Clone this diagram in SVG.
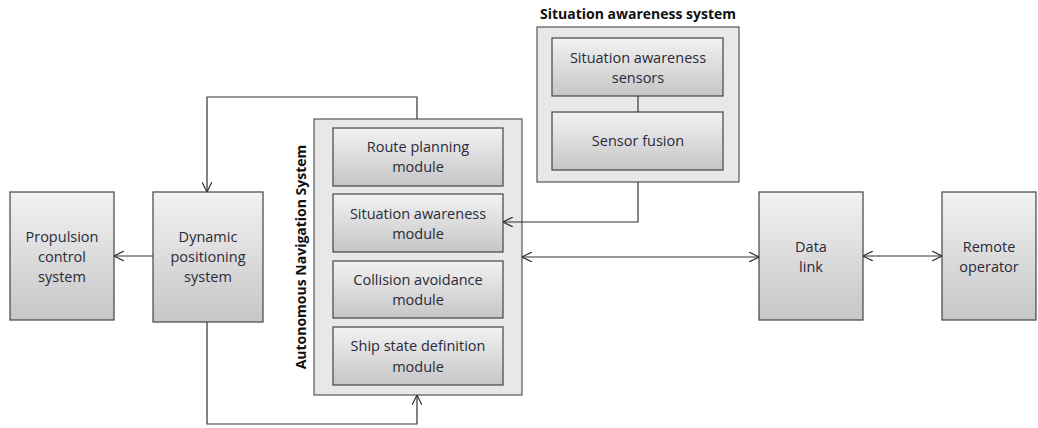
<svg xmlns="http://www.w3.org/2000/svg" width="1038" height="428" viewBox="0 0 1038 428">
<style>
.box{fill:url(#g);stroke:#444;stroke-width:1.2}
.cont{fill:#e8e8e8;stroke:#555;stroke-width:1.2}
.t{font-family:"Open Sans","Liberation Sans",sans-serif;font-size:14.5px;fill:#2a2a3a;text-anchor:middle}
.b{font-family:"Open Sans","Liberation Sans",sans-serif;font-size:14px;font-weight:bold;fill:#111;text-anchor:middle}
.c{fill:none;stroke:#333;stroke-width:1.2}
</style>
<defs>
<linearGradient id="g" x1="0" y1="0" x2="0" y2="1"><stop offset="0" stop-color="#f2f2f2"/><stop offset="1" stop-color="#c6c6c6"/></linearGradient>
<marker id="a" viewBox="0 0 10 10" refX="10" refY="5" markerWidth="10" markerHeight="10" markerUnits="userSpaceOnUse" orient="auto-start-reverse"><path d="M0,0 L10,5 L0,10" fill="none" stroke="#333" stroke-width="1.2"/></marker>
</defs>
<g id="propulsion"><rect class="box" x="10" y="192" width="104" height="128"/>
<text class="t" x="62" y="242">Propulsion</text><text class="t" x="62" y="262">control</text><text class="t" x="62" y="282">system</text></g>
<g id="dp"><rect class="box" x="153" y="192" width="110" height="130"/>
<text class="t" x="208" y="242">Dynamic</text><text class="t" x="208" y="262">positioning</text><text class="t" x="208" y="282">system</text></g>
<g id="ans"><rect class="cont" x="314" y="119" width="208" height="276"/>
<text class="b" transform="translate(306,257) rotate(-90)">Autonomous Navigation System</text></g>
<g id="route"><rect class="box" x="333" y="128" width="170" height="58"/>
<text class="t" x="418" y="152">Route planning</text><text class="t" x="418" y="172">module</text></g>
<g id="sam"><rect class="box" x="333" y="194" width="170" height="58"/>
<text class="t" x="418" y="219">Situation awareness</text><text class="t" x="418" y="239">module</text></g>
<g id="cam"><rect class="box" x="333" y="261" width="170" height="57"/>
<text class="t" x="418" y="285">Collision avoidance</text><text class="t" x="418" y="305">module</text></g>
<g id="ssd"><rect class="box" x="333" y="327" width="170" height="58"/>
<text class="t" x="418" y="351">Ship state definition</text><text class="t" x="418" y="372">module</text></g>
<g id="sas"><text class="b" x="638" y="19">Situation awareness system</text>
<rect class="cont" x="537" y="27" width="202" height="155"/></g>
<g id="sensors"><rect class="box" x="552" y="38" width="171" height="58"/>
<text class="t" x="638" y="63">Situation awareness</text><text class="t" x="638" y="83">sensors</text></g>
<g id="fusion"><rect class="box" x="552" y="112" width="171" height="58"/>
<text class="t" x="638" y="146">Sensor fusion</text></g>
<g id="datalink"><rect class="box" x="759" y="192" width="104" height="128"/>
<text class="t" x="811" y="252">Data</text><text class="t" x="811" y="272">link</text></g>
<g id="remote"><rect class="box" x="942" y="192" width="94" height="128"/>
<text class="t" x="989" y="252">Remote</text><text class="t" x="989" y="272">operator</text></g>
<g id="connectors">
<path class="c" d="M153,256 H114" marker-end="url(#a)"/>
<path class="c" d="M417,119 V97 H207 V192" marker-end="url(#a)"/>
<path class="c" d="M207,322 V424 H417 V395" marker-end="url(#a)"/>
<path class="c" d="M638,182 V222 H503" marker-end="url(#a)"/>
<path class="c" d="M638,96 V112"/>
<path class="c" d="M522,257 H759" marker-start="url(#a)" marker-end="url(#a)"/>
<path class="c" d="M863,256 H942" marker-start="url(#a)" marker-end="url(#a)"/>
</g>
</svg>
